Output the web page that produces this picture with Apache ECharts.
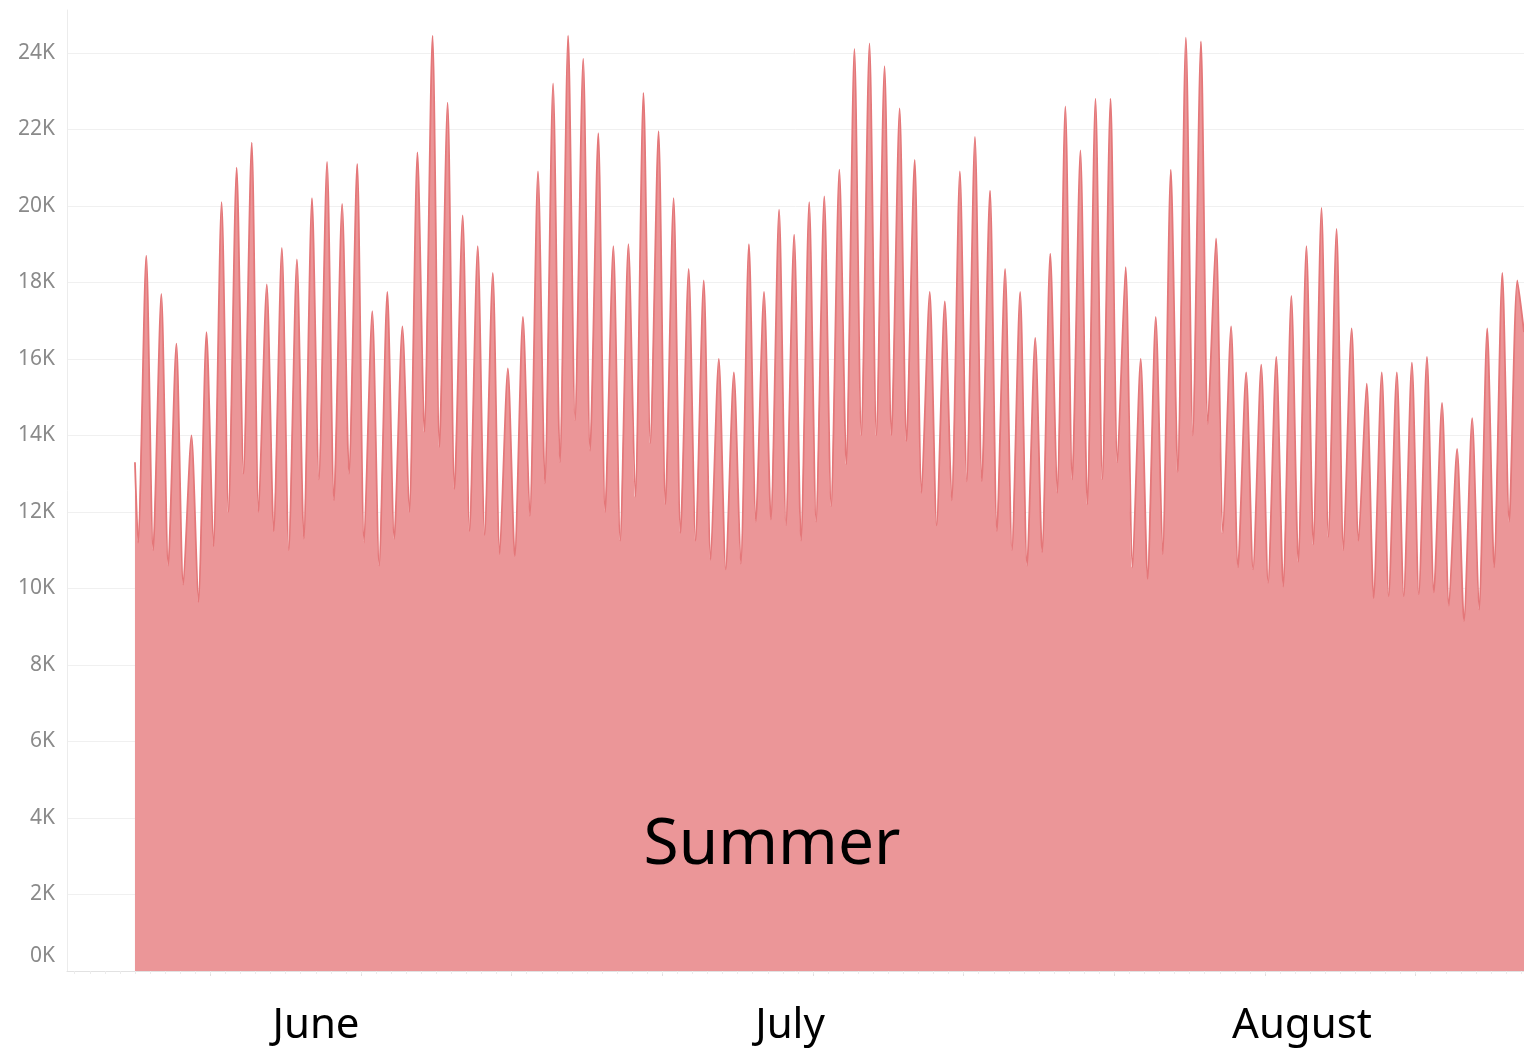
<!DOCTYPE html>
<html>
<head>
<meta charset="utf-8">
<title>Summer load</title>
<script src="https://cdn.jsdelivr.net/npm/echarts@6/dist/echarts.min.js"></script>
<style>
  html, body { margin: 0; padding: 0; background: #fff; }
  #main { width: 1524px; height: 1052px; }
</style>
</head>
<body>
<div id="main"></div>
<script>
    // daily load (one peak and one trough per day, 1 Jun .. 31 Aug)
    var dayPeak = [
        18700, 17700, 16400, 14000, 16700, 20100, 21000, 21650, 17950, 18900, 18600, 20200, 21150, 20050, 21100,
        17250, 17750, 16850, 21400, 24450, 22700, 19750, 18950, 18250, 15750, 17100, 20900, 23200, 24450, 23850, 21900,
        18950, 19000, 22950, 21950, 20200, 18350, 18050, 16000, 15650, 19000, 17750, 19900, 19250, 20100, 20250,
        20950, 24100, 24250, 23650, 22550, 21200, 17750, 17500, 20900, 21800, 20400, 18350, 17750, 16550, 18750,
        22600, 21450, 22800, 22800, 18400, 16000, 17100, 20950, 24400, 24300, 19150, 16850, 15650, 15850, 16050, 17650,
        18950, 19950, 19400, 16800, 15350, 15650, 15650, 15900, 16050, 14850, 13650, 14450, 16800, 18250, 18050
    ];
    var dayTrough = [
        11200, 11000, 10600, 10100, 9650, 11100, 12000, 13000, 12000, 11500, 11000, 11300, 12850, 12300, 13000,
        11200, 10600, 11300, 12000, 14100, 13700, 12600, 11500, 11400, 10900, 10850, 11900, 12750, 13300, 14400, 13600,
        12000, 11250, 12400, 13800, 12200, 11450, 11250, 10750, 10500, 10650, 11750, 11800, 11650, 11250, 11750,
        12150, 13250, 14000, 14000, 14000, 13850, 12500, 11650, 12300, 12800, 12800, 11500, 11000, 10600, 10950,
        12500, 12850, 12200, 12850, 13300, 10550, 10250, 10900, 13050, 14000, 14300, 11450, 10550, 10500, 10150, 10050,
        10700, 11150, 11350, 11000, 11250, 9750, 9800, 9800, 9850, 9900, 9550, 9150, 9450, 10550, 11750
    ];
    var startLoad = 13300;   // first hour of the record
    var endLoad = 16700;     // last hour of the record
    var endDay = 92.19;      // days after 1 June
    var troughHour = 5;
    var peakHour = 18;

    var monthLabels = ['June', 'July', 'August'];
    var monthLabelX = [316, 790, 1302];
    var seasonLabel = 'Summer';

    var yTicks = [0, 2000, 4000, 6000, 8000, 10000, 12000, 14000, 16000, 18000, 20000, 22000, 24000];
    var majorTickDays = [5, 15, 25, 35, 45, 55, 65, 75, 85];

    var loadData = [[0, startLoad]];
    for (var d = 0; d < dayPeak.length; d++) {
        loadData.push([d + troughHour / 24, dayTrough[d]]);
        loadData.push([d + peakHour / 24, dayPeak[d]]);
    }
    loadData.push([endDay, endLoad]);

    var xMin = -4.51;
    var dayTicks = [];
    for (var t = Math.ceil(xMin); t <= Math.floor(endDay); t++) {
        dayTicks.push(t);
    }

    var graphics = [];
    for (var i = 0; i < monthLabels.length; i++) {
        graphics.push({
            type: 'text',
            x: monthLabelX[i],
            y: 1026,
            z: 100,
            style: {
                text: monthLabels[i],
                fontFamily: 'Noto Sans',
                fontSize: 42,
                fill: '#000',
                align: 'center',
                verticalAlign: 'middle'
            }
        });
    }
    graphics.push({
        type: 'text',
        x: 772,
        y: 846,
        z: 100,
        style: {
            text: seasonLabel,
            fontFamily: 'Noto Sans',
            fontSize: 64,
            fill: '#000',
            align: 'center',
            verticalAlign: 'middle'
        }
    });

    var chart = echarts.init(document.getElementById('main'));
    var option = {
        animation: false,
        backgroundColor: '#fff',
        grid: {
            left: 67,
            right: 0,
            top: 10,
            bottom: 81
        },
        xAxis: [
            {
                type: 'value',
                min: xMin,
                max: endDay,
                splitLine: { show: false },
                axisLine: { show: true, onZero: false, lineStyle: { color: '#e2e2e2', width: 1 } },
                axisTick: {
                    show: true,
                    customValues: majorTickDays,
                    length: 5,
                    lineStyle: { color: '#e0e0e0' }
                },
                axisLabel: { show: false }
            },
            {
                type: 'value',
                position: 'bottom',
                min: xMin,
                max: endDay,
                splitLine: { show: false },
                axisLine: { show: false },
                axisTick: {
                    show: true,
                    customValues: dayTicks,
                    length: 3,
                    lineStyle: { color: '#ececec' }
                },
                axisLabel: { show: false }
            }
        ],
        yAxis: {
            type: 'value',
            min: 0,
            max: 25120,
            interval: 2000,
            axisLine: { show: true, onZero: false, lineStyle: { color: '#ececec', width: 1 } },
            axisTick: { show: false },
            splitLine: {
                show: true,
                showMinLine: false,
                showMaxLine: false,
                lineStyle: { color: '#f0f0f0', width: 1 }
            },
            axisLabel: {
                showMaxLabel: false,
                margin: 12,
                color: '#8a8a8a',
                fontFamily: 'Noto Sans',
                fontSize: 21,
                formatter: function (value) {
                    if (yTicks.indexOf(value) < 0) {
                        return '';
                    }
                    if (value === 0) {
                        return '{low|0K}';
                    }
                    return value / 1000 + 'K';
                },
                rich: {
                    low: {
                        color: '#8a8a8a',
                        fontFamily: 'Noto Sans',
                        fontSize: 21,
                        padding: [0, 0, 30, 0]
                    }
                }
            }
        },
        series: [
            {
                name: 'Load',
                type: 'line',
                data: loadData,
                showSymbol: false,
                smooth: 0.25,
                lineStyle: {
                    color: '#e47779',
                    width: 1.8
                },
                areaStyle: {
                    color: '#eb9698',
                    opacity: 1
                }
            }
        ],
        graphic: graphics
    };
    chart.setOption(option);
</script>
</body>
</html>
